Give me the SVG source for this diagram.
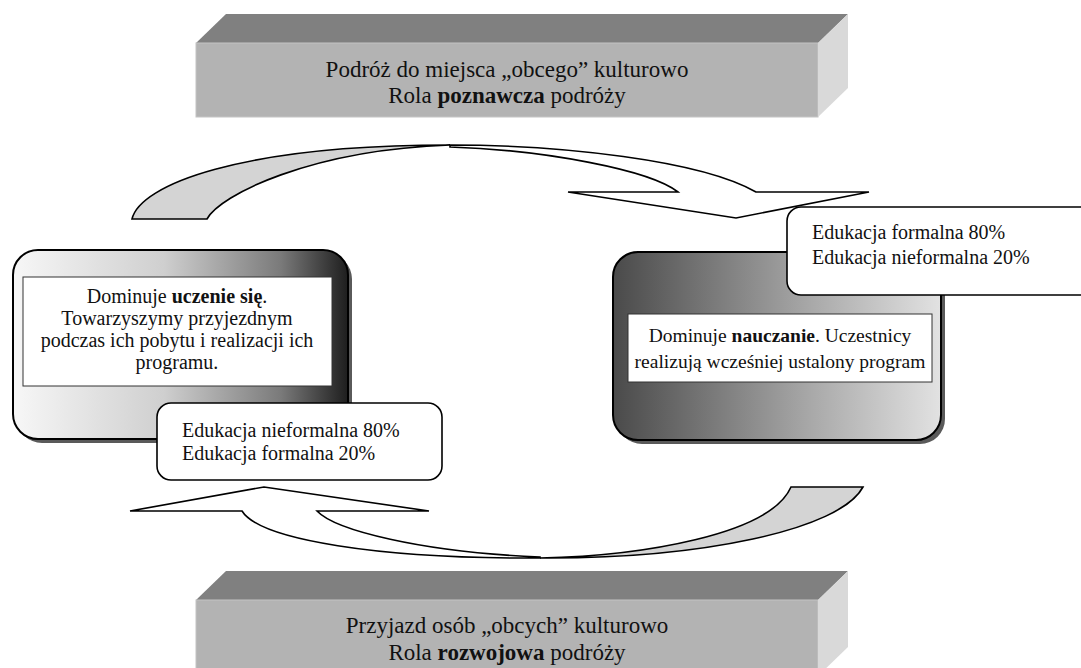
<svg xmlns="http://www.w3.org/2000/svg" width="1081" height="668" viewBox="0 0 1081 668">
  <defs>
    <linearGradient id="gLeft" x1="0" y1="0" x2="1" y2="0">
      <stop offset="0" stop-color="#f7f7f7"/>
      <stop offset="0.45" stop-color="#cfcfcf"/>
      <stop offset="0.8" stop-color="#7a7a7a"/>
      <stop offset="1" stop-color="#1e1e1e"/>
    </linearGradient>
    <linearGradient id="gRight" x1="0" y1="0" x2="1" y2="0">
      <stop offset="0" stop-color="#4a4a4a"/>
      <stop offset="0.6" stop-color="#a8a8a8"/>
      <stop offset="1" stop-color="#e2e2e2"/>
    </linearGradient>
    <style>
      .t { font-family: "Liberation Serif", "Times New Roman", serif; fill: #111; }
      .big { font-size: 23px; }
      .mid { font-size: 20px; }
      .b { font-weight: bold; }
      .topf { fill: #808080; }
      .front { fill: #b3b3b3; stroke: #c4c4c4; stroke-width: 1; }
      .side { fill: #d9d9d9; }
      .node { stroke: #000; stroke-width: 2; }
      .shadow { fill: #5a5a5a; }
      .inner { fill: #fff; stroke: #333; stroke-width: 1; }
      .call { fill: #fff; stroke: #000; stroke-width: 1.6; }
      .arrW { fill: #fff; stroke: #000; stroke-width: 1.6; stroke-linejoin: miter; }
      .arrG { fill: #d4d4d4; stroke: #000; stroke-width: 1.6; }
    </style>
  </defs>

  <g id="connectors">
    <!-- top curved arrow -->
    <path class="arrG" d="M132,219 C140,185 240,145 450,145 C310,150 220,195 207,219 Z"/>
    <path class="arrW" d="M450,145 C560,145 700,160 756,192 L869,192 L736,218 L568,192 L678,192 C650,170 545,150 450,147 Z"/>
    <!-- bottom curved arrow -->
    <path class="arrG" d="M540,558 C700,559 840,530 863,487 L791,487 C770,535 640,556 540,558 Z"/>
    <path class="arrW" d="M540,558 C380,559 260,540 242,511 L130,511 L264,487 L429,511 L317,511 C335,530 420,552 540,557 Z"/>
  </g>

  <g id="top-box">
    <polygon class="topf" points="196,43 226,14 848,14 818,43"/>
    <rect class="front" x="196" y="43" width="622" height="74"/>
    <polygon class="side" points="818,43 848,14 848,88 818,117"/>
    <text class="t big" x="507" y="77" text-anchor="middle">Podróż do miejsca „obcego” kulturowo</text>
    <text class="t big" x="507" y="103" text-anchor="middle">Rola <tspan class="b">poznawcza</tspan> podróży</text>
  </g>

  <g id="bottom-box">
    <polygon class="topf" points="196,600 226,571 848,571 818,600"/>
    <rect class="front" x="196" y="600" width="622" height="80"/>
    <polygon class="side" points="818,600 848,571 848,647 818,676"/>
    <text class="t big" x="507" y="633" text-anchor="middle">Przyjazd osób „obcych” kulturowo</text>
    <text class="t big" x="507" y="660" text-anchor="middle">Rola <tspan class="b">rozwojowa</tspan> podróży</text>
  </g>

  <g id="left-node">
    <rect class="shadow" x="17" y="254" width="335" height="189" rx="25"/>
    <rect class="node" x="13" y="250" width="335" height="189" rx="25" fill="url(#gLeft)"/>
    <rect class="inner" x="23" y="277" width="309" height="109"/>
    <text class="t mid" x="177" y="303" text-anchor="middle">Dominuje <tspan class="b">uczenie się</tspan>.</text>
    <text class="t mid" x="177" y="325" text-anchor="middle">Towarzyszymy przyjezdnym</text>
    <text class="t mid" x="177" y="347" text-anchor="middle">podczas ich pobytu i realizacji ich</text>
    <text class="t mid" x="177" y="369" text-anchor="middle">programu.</text>
  </g>

  <g id="right-node">
    <rect class="shadow" x="617" y="256" width="328" height="188" rx="25" fill="#777"/>
    <rect class="node" x="613" y="252" width="328" height="188" rx="25" fill="url(#gRight)"/>
    <rect class="inner" x="628" y="314" width="304" height="68"/>
    <text class="t" font-size="19.5" x="780" y="342" text-anchor="middle">Dominuje <tspan class="b">nauczanie</tspan>. Uczestnicy</text>
    <text class="t" font-size="19.5" x="780" y="368" text-anchor="middle">realizują wcześniej ustalony program</text>
  </g>

  <g id="left-callout">
    <rect class="call" x="157" y="403" width="285" height="77" rx="14"/>
    <text class="t mid" x="182" y="437">Edukacja nieformalna 80%</text>
    <text class="t mid" x="182" y="460">Edukacja formalna 20%</text>
  </g>

  <g id="right-callout">
    <rect class="call" x="787" y="207" width="310" height="88" rx="14"/>
    <text class="t mid" x="812" y="239">Edukacja formalna 80%</text>
    <text class="t mid" x="812" y="264">Edukacja nieformalna 20%</text>
  </g>
</svg>
